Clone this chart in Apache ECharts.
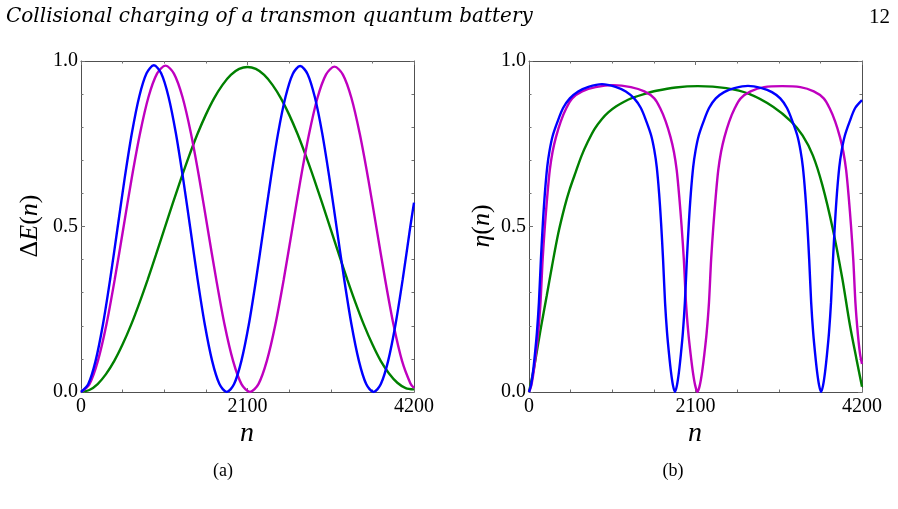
<!DOCTYPE html>
<html><head><meta charset="utf-8">
<script src="https://cdn.jsdelivr.net/npm/echarts@6/dist/echarts.min.js"></script>
<style>html,body{margin:0;padding:0;background:#fff}#c{width:898px;height:509px}</style>
</head><body><div id="c"></div>
<script>
// ---------- tick labels ----------
const xTicks = [0, 2100, 4200];
const xTickLabels = ['0', '2100', '4200'];
const yTicks = [0, 0.5, 1.0];
const yTickLabels = ['0.0', '0.5', '1.0'];

// ---------- panel (a): ΔE(n) ----------
const blueDE_n = [0,92,184,276,368,460,551,643,735,827,919,1011,1103,1195,1287,1379,1470,1562,1654,1746,1838,1931,2023,2116,2208,2301,2394,2486,2579,2671,2764,2857,2949,3042,3134,3227,3320,3412,3505,3597,3690,3782,3874,3966,4058,4150,4200];
const blueDE_v = [0,0.024,0.094,0.203,0.341,0.494,0.646,0.784,0.893,0.963,0.987,0.963,0.893,0.784,0.646,0.494,0.341,0.203,0.094,0.024,0,0.024,0.094,0.203,0.340,0.492,0.645,0.782,0.891,0.961,0.985,0.961,0.891,0.782,0.645,0.492,0.340,0.203,0.094,0.024,0,0.024,0.094,0.203,0.341,0.494,0.572];

const magentaDE_n = [0,107,213,320,426,533,639,746,852,959,1066,1172,1279,1385,1492,1598,1705,1811,1918,2024,2131,2238,2344,2451,2557,2664,2770,2877,2983,3090,3197,3303,3410,3516,3623,3729,3836,3942,4049,4155,4200];
const magentaDE_v = [0,0.024,0.094,0.203,0.341,0.493,0.645,0.783,0.892,0.962,0.986,0.962,0.892,0.783,0.645,0.493,0.341,0.203,0.094,0.024,0,0.024,0.094,0.203,0.340,0.492,0.643,0.780,0.889,0.959,0.983,0.959,0.889,0.780,0.643,0.492,0.340,0.203,0.094,0.026,0.012];

const greenDE_n = [0,105,210,315,420,525,630,735,840,945,1050,1155,1260,1365,1470,1575,1680,1785,1890,1995,2100,2205,2310,2415,2520,2625,2730,2835,2940,3045,3150,3255,3360,3465,3570,3675,3780,3885,3990,4095,4200];
const greenDE_v = [0,0.006,0.024,0.054,0.094,0.144,0.202,0.268,0.339,0.414,0.491,0.568,0.643,0.714,0.780,0.838,0.888,0.928,0.958,0.976,0.982,0.976,0.958,0.928,0.888,0.838,0.780,0.714,0.643,0.568,0.491,0.414,0.339,0.268,0.202,0.144,0.094,0.056,0.028,0.012,0.008];

// ---------- panel (b): η(n) ----------
const blueEta_n = [0,25,50,75,100,125,150,175,200,230,260,300,360,430,515,620,750,920,1091,1221,1326,1411,1481,1541,1581,1611,1641,1666,1691,1716,1741,1766,1791,1816,1841,1866,1891,1916,1941,1966,1991,2016,2041,2071,2101,2141,2201,2271,2356,2461,2591,2762,2934,3064,3169,3254,3324,3384,3424,3454,3484,3509,3534,3559,3584,3609,3634,3659,3684,3709,3734,3759,3784,3809,3834,3859,3884,3914,3944,3984,4044,4114,4200];
const blueEta_v = [0,0.02,0.06,0.115,0.18,0.27,0.40,0.51,0.60,0.68,0.73,0.775,0.817,0.858,0.887,0.908,0.922,0.93,0.922,0.908,0.887,0.858,0.817,0.775,0.73,0.68,0.60,0.51,0.40,0.27,0.18,0.115,0.06,0.02,0,0.02,0.06,0.115,0.18,0.27,0.40,0.51,0.60,0.68,0.73,0.775,0.817,0.858,0.887,0.906,0.918,0.925,0.918,0.906,0.887,0.858,0.817,0.775,0.73,0.68,0.60,0.51,0.40,0.27,0.18,0.115,0.06,0.02,0,0.02,0.06,0.115,0.18,0.27,0.40,0.51,0.60,0.68,0.73,0.775,0.817,0.858,0.882];

const magentaEta_n = [0,29,58,87,116,145,172,200,230,262,297,340,400,470,545,670,840,1062,1285,1455,1580,1655,1725,1785,1828,1863,1895,1925,1953,1980,2009,2038,2067,2096,2125,2154,2183,2212,2241,2270,2297,2325,2355,2387,2422,2465,2525,2595,2670,2795,2965,3193,3422,3592,3717,3792,3862,3922,3965,4000,4032,4062,4090,4117,4146,4175,4200];
const magentaEta_v = [0,0.02,0.06,0.115,0.18,0.27,0.40,0.50,0.59,0.67,0.725,0.77,0.817,0.857,0.887,0.908,0.921,0.927,0.921,0.908,0.887,0.857,0.817,0.77,0.725,0.67,0.59,0.50,0.40,0.27,0.18,0.115,0.06,0.02,0,0.02,0.06,0.115,0.18,0.27,0.40,0.50,0.59,0.67,0.725,0.77,0.817,0.857,0.887,0.908,0.921,0.924,0.921,0.908,0.887,0.857,0.817,0.77,0.725,0.67,0.59,0.50,0.40,0.27,0.18,0.115,0.085];

const greenEta_n = [0,40,76,147,223,290,370,450,513,590,660,740,828,920,1000,1101,1200,1312,1450,1607,1850,2131,2489,2783,3078,3308,3450,3580,3700,3835,3950,4049,4130,4200];
const greenEta_v = [0,0.045,0.09,0.19,0.29,0.38,0.48,0.56,0.612,0.665,0.712,0.755,0.795,0.825,0.845,0.863,0.877,0.889,0.9,0.91,0.92,0.924,0.918,0.9,0.862,0.817,0.775,0.715,0.625,0.489,0.345,0.2,0.1,0.016];

// ---------- chart ----------
const chart = echarts.init(document.getElementById('c'), null, {renderer: 'canvas'});
const pairs = (ns, vs) => ns.map((n, i) => [n, vs[i]]);
const serif = 'Liberation Serif';
const frame = '#505050';
const tickCol = '#707070';
const BLUE = '#0000ff', MAG = '#bf00bf', GREEN = '#008000';

function xAxis(grid, pos, labels) {
  return {
    type: 'value', gridIndex: grid, position: pos, min: 0, max: 4200, interval: 2100,
    axisLine: {show: true, onZero: false, lineStyle: {color: frame, width: 1}},
    axisTick: {show: true, inside: true, length: 4, lineStyle: {color: tickCol}},
    minorTick: {show: true, splitNumber: 4, length: 2.5, lineStyle: {color: tickCol}},
    splitLine: {show: false},
    axisLabel: {show: labels, margin: 5, color: '#000', fontFamily: serif, fontSize: 20,
      formatter: v => { const i = xTicks.indexOf(v); return i >= 0 ? xTickLabels[i] : ''; }}
  };
}
function yAxis(grid, pos, labels) {
  return {
    type: 'value', gridIndex: grid, position: pos, min: 0, max: 1, interval: 0.5,
    axisLine: {show: true, onZero: false, lineStyle: {color: frame, width: 1}},
    axisTick: {show: true, inside: true, length: 4, lineStyle: {color: tickCol}},
    minorTick: {show: true, splitNumber: 5, length: 2.5, lineStyle: {color: tickCol}},
    splitLine: {show: false},
    axisLabel: {show: labels, margin: 3, color: '#000', fontFamily: serif, fontSize: 20,
      formatter: v => { const i = yTicks.findIndex(t => Math.abs(t - v) < 1e-9); return i >= 0 ? yTickLabels[i] : ''; }}
  };
}
function line(name, xi, yi, data, color) {
  return {name, type: 'line', xAxisIndex: xi, yAxisIndex: yi, data, showSymbol: false,
    smooth: 0.3, lineStyle: {color, width: 2.4}, itemStyle: {color}, clip: true, animation: false};
}

const italic = {fontFamily: serif, fontStyle: 'italic', fontSize: 26, fill: '#000'};
const upright = {fontFamily: serif, fontSize: 26, fill: '#000'};

chart.setOption({
  animation: false,
  backgroundColor: '#fff',
  grid: [
    {left: 81, top: 61, width: 333, height: 331, containLabel: false},
    {left: 529, top: 61, width: 333, height: 331, containLabel: false}
  ],
  xAxis: [xAxis(0, 'bottom', true), xAxis(0, 'top', false), xAxis(1, 'bottom', true), xAxis(1, 'top', false)],
  yAxis: [yAxis(0, 'left', true), yAxis(0, 'right', false), yAxis(1, 'left', true), yAxis(1, 'right', false)],
  series: [
    line('green ΔE', 0, 0, pairs(greenDE_n, greenDE_v), GREEN),
    line('magenta ΔE', 0, 0, pairs(magentaDE_n, magentaDE_v), MAG),
    line('blue ΔE', 0, 0, pairs(blueDE_n, blueDE_v), BLUE),
    line('green η', 2, 2, pairs(greenEta_n, greenEta_v), GREEN),
    line('magenta η', 2, 2, pairs(magentaEta_n, magentaEta_v), MAG),
    line('blue η', 2, 2, pairs(blueEta_n, blueEta_v), BLUE)
  ],
  graphic: [
    {type: 'text', left: 6, top: 7, style: {text: 'Collisional charging of a transmon quantum battery', fontFamily: 'DejaVu Serif', fontStyle: 'italic', fontSize: 20, fill: '#000'}},
    {type: 'text', right: 8, top: 7, style: {text: '12', fontFamily: serif, fontSize: 21, fill: '#000'}},
    {type: 'text', x: 30, y: 226, rotation: Math.PI / 2,
      style: {text: '{u|Δ}{i|E}{u|(}{i|n}{u|)}', align: 'center', verticalAlign: 'middle',
        rich: {u: upright, i: italic}}},
    {type: 'text', x: 482, y: 226, rotation: Math.PI / 2,
      style: {text: '{i|η}{u|(}{i|n}{u|)}', align: 'center', verticalAlign: 'middle',
        rich: {u: upright, i: italic}}},
    {type: 'text', x: 247, y: 434, style: {text: 'n', align: 'center', verticalAlign: 'middle', fontFamily: serif, fontStyle: 'italic', fontSize: 28, fill: '#000'}},
    {type: 'text', x: 695, y: 434, style: {text: 'n', align: 'center', verticalAlign: 'middle', fontFamily: serif, fontStyle: 'italic', fontSize: 28, fill: '#000'}},
    {type: 'text', x: 223, y: 471, style: {text: '(a)', align: 'center', verticalAlign: 'middle', fontFamily: serif, fontSize: 18, fill: '#000'}},
    {type: 'text', x: 673, y: 471, style: {text: '(b)', align: 'center', verticalAlign: 'middle', fontFamily: serif, fontSize: 18, fill: '#000'}}
  ]
});
</script>
</body></html>
